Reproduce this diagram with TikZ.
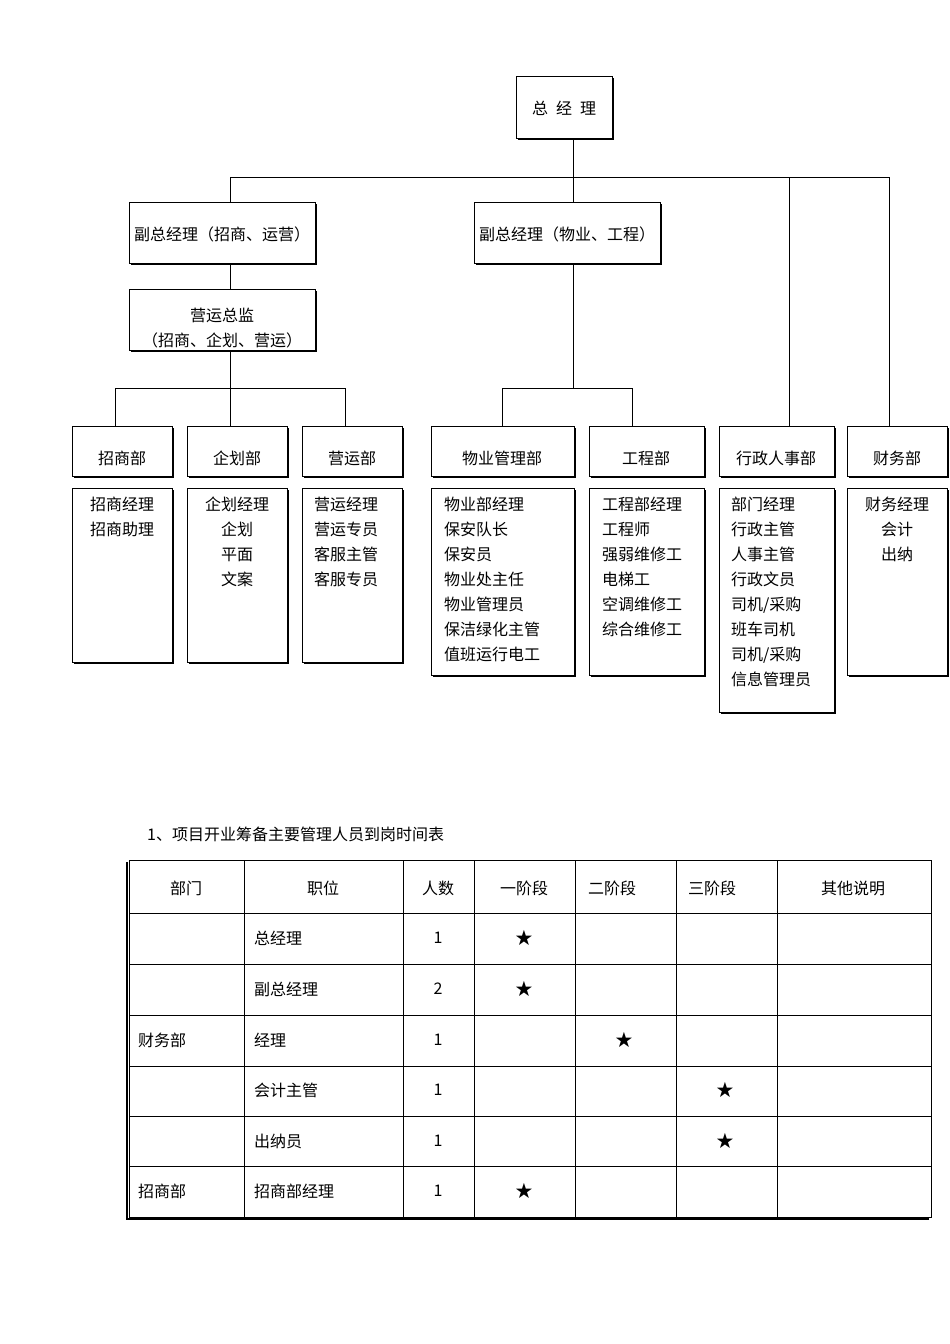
\documentclass[tikz,border=0pt]{standalone}
\usepackage{fontspec}
\setmainfont{Noto Sans CJK SC}
\newfontfamily\symf{DejaVu Sans}
\begin{document}
\begin{tikzpicture}[x=1pt,y=-1pt,
  every node/.style={font=\fontsize{16}{25}\selectfont,inner sep=0pt},
  ln/.style={line width=0.9pt},
  bx/.style={draw,line width=1pt}]
\useasboundingbox (0,0) rectangle (950,1344);
\newcommand\shbox[5]{%
  \draw[bx] (#1,#2) rectangle (#3,#4);
  \draw[line width=2pt] (#1+2,#4+1) -- (#3+1,#4+1) -- (#3+1,#2+2);
  \node (#5) at ({(#1+#3)/2},{(#2+#4)/2}) {};}
% top
\shbox{516}{76}{612}{138}{gm}
\node at (564,108) {总\,\,\,经\,\,\,理};
\shbox{129}{202}{315}{263}{v1}
\node at (222,234) {副总经理（招商、运营）};
\shbox{474}{202}{660}{263}{v2}
\node at (567,234) {副总经理（物业、工程）};
\shbox{129}{289}{315}{350}{ov}
\node[align=center] at (222,328) {营运总监\\（招商、企划、营运）};
% connectors
\draw[ln] (573,138) -- (573,177);
\draw[ln] (230,202) -- (230,177) -- (889,177) -- (889,426);
\draw[ln] (573,177) -- (573,202);
\draw[ln] (789,177) -- (789,426);
\draw[ln] (230,263) -- (230,289);
\draw[ln] (230,350) -- (230,426);
\draw[ln] (115,426) -- (115,388) -- (345,388) -- (345,426);
\draw[ln] (573,263) -- (573,388);
\draw[ln] (502,426) -- (502,388) -- (632,388) -- (632,426);
% departments
\shbox{72}{426}{172}{476}{d1}\node at (122,458) {招商部};
\shbox{187}{426}{287}{476}{d2}\node at (237,458) {企划部};
\shbox{302}{426}{402}{476}{d3}\node at (352,458) {营运部};
\shbox{431}{426}{574}{476}{d4}\node at (502,458) {物业管理部};
\shbox{589}{426}{704}{476}{d5}\node at (646,458) {工程部};
\shbox{719}{426}{834}{476}{d6}\node at (776,458) {行政人事部};
\shbox{847}{426}{947}{476}{d7}\node at (897,458) {财务部};
% details
\shbox{72}{488}{172}{662}{e1}
\node[anchor=north,align=center] at (122,497) {招商经理\\招商助理};
\shbox{187}{488}{287}{662}{e2}
\node[anchor=north,align=center] at (237,497) {企划经理\\企划\\平面\\文案};
\shbox{302}{488}{402}{662}{e3}
\node[anchor=north west,align=left] at (314,497) {营运经理\\营运专员\\客服主管\\客服专员};
\shbox{431}{488}{574}{675}{e4}
\node[anchor=north west,align=left] at (444,497) {物业部经理\\保安队长\\保安员\\物业处主任\\物业管理员\\保洁绿化主管\\值班运行电工};
\shbox{589}{488}{704}{675}{e5}
\node[anchor=north west,align=left] at (602,497) {工程部经理\\工程师\\强弱维修工\\电梯工\\空调维修工\\综合维修工};
\shbox{719}{488}{834}{712}{e6}
\node[anchor=north west,align=left] at (731,497) {部门经理\\行政主管\\人事主管\\行政文员\\司机/采购\\班车司机\\司机/采购\\信息管理员};
\shbox{847}{488}{947}{675}{e7}
\node[anchor=north,align=center] at (897,497) {财务经理\\会计\\出纳};
% table
\node[anchor=west] at (147,834) {1、项目开业筹备主要管理人员到岗时间表};
\draw[line width=1pt] (129,860) rectangle (931,1217);
\draw[line width=1.2pt] (127,862) -- (127,1219) -- (929,1219);
\foreach \x in {244,403,474,575,676,777} \draw[line width=0.8pt] (\x,860) -- (\x,1217);
\foreach \y in {913,964,1015,1066,1116,1166} \draw[line width=0.8pt] (129,\y) -- (931,\y);
\node at (186,888) {部门};
\node at (323,888) {职位};
\node at (438,888) {人数};
\node at (524,888) {一阶段};
\node at (612,888) {二阶段};
\node at (712,888) {三阶段};
\node at (853,888) {其他说明};
\foreach \y/\d/\p/\n/\c in {938//总经理/1/524, 989//副总经理/2/524, 1040/财务部/经理/1/624, 1090//会计主管/1/725, 1141//出纳员/1/725, 1191/招商部/招商部经理/1/524}{
  \node[anchor=west] at (138,\y) {\d};
  \node[anchor=west] at (254,\y) {\p};
  \node at (438,\y) {\n};
  \node at (\c,\y) {\symf\fontsize{21}{21}\selectfont ★};
}
\end{tikzpicture}
\end{document}
